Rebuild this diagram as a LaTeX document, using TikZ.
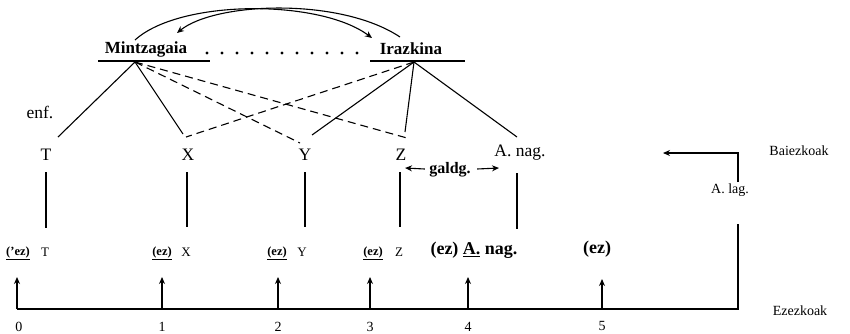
\documentclass[tikz,border=0pt]{standalone}
\usepackage{fontspec}
\setmainfont{Liberation Serif}
\usetikzlibrary{arrows.meta}
\begin{document}
\begin{tikzpicture}[x=1pt,y=-1pt, line width=1.1pt,
 lbl/.style={inner sep=0pt, font=\fontsize{17.5}{20}\selectfont},
 hd/.style={inner sep=0pt, font=\fontsize{17}{19}\selectfont\bfseries},
 sm/.style={inner sep=0pt, font=\fontsize{13}{15}\selectfont},
 side/.style={inner sep=0pt, font=\fontsize{14}{16}\selectfont},
 smb/.style={inner sep=0pt, font=\fontsize{12.5}{14}\selectfont\bfseries},
 bigb/.style={inner sep=0pt, font=\fontsize{18}{20}\selectfont\bfseries},
 gb/.style={inner sep=0pt, font=\fontsize{16}{18}\selectfont\bfseries},
 dsh/.style={dash pattern=on 8pt off 5pt},
 arr/.style={-{Stealth[length=7pt,width=6pt]}},
]
\useasboundingbox (0,0) rectangle (850,333);

% headings
\node[hd] (mz) at (146,49) {Mintzagaia};
\node[hd] (ir) at (411,49) {Irazkina};
\coordinate (mzL) at (98,61); \coordinate (mzR) at (210,61);
\coordinate (irL) at (370,61); \coordinate (irR) at (465,61);
\draw (mzL) -- (mzR);
\draw (irL) -- (irR);
\foreach \i in {0,...,10} \fill (207+15*\i,53) circle (1.6pt);

% curved arrows
\coordinate (c1s) at (135,40); \coordinate (c1e) at (372,38);
\coordinate (c2s) at (400,37); \coordinate (c2e) at (177,33);
\draw[arr] (c1s) .. controls (180,-1) and (320,-1) .. (c1e);
\draw[arr] (c2s) .. controls (340,-3) and (215,2) .. (c2e);

% apexes
\coordinate (mA) at (135,62);
\coordinate (iA) at (414,62);

% upper labels
\node[lbl] (enf) at (40,112) {enf.};
\node[lbl] (T) at (46,155) {T};
\node[lbl] (X) at (188,155) {X};
\node[lbl] (Y) at (305,155) {Y};
\node[lbl] (Z) at (401,155) {Z};
\node[lbl] (AN) at (520,153) {A. nag.};

\coordinate (Tt) at (58,137);
\coordinate (Xt) at (183,134);
\coordinate (Xd) at (186,137);
\coordinate (Yd) at (300,143);
\coordinate (Ys) at (312,135);
\coordinate (Zd) at (407,138);
\coordinate (Zs) at (405,132);
\coordinate (ANt) at (517,137);

\draw (mA) -- (Tt);
\draw (mA) -- (Xt);
\draw[dsh] (mA) -- (Yd);
\draw[dsh] (mA) -- (Zd);
\draw[dsh] (iA) -- (Xd);
\draw (iA) -- (Ys);
\draw (iA) -- (Zs);
\draw (iA) -- (ANt);

% verticals
\coordinate (Tv1) at (46,172); \coordinate (Tv2) at (46,228);
\coordinate (Xv1) at (187,172); \coordinate (Xv2) at (187,227);
\coordinate (Yv1) at (305,172); \coordinate (Yv2) at (305,227);
\coordinate (Zv1) at (400,172); \coordinate (Zv2) at (400,227);
\coordinate (Av1) at (517,173); \coordinate (Av2) at (517,229);
\draw (Tv1) -- (Tv2);
\draw (Xv1) -- (Xv2);
\draw (Yv1) -- (Yv2);
\draw (Zv1) -- (Zv2);
\draw (Av1) -- (Av2);

% galdg.
\node[gb] (gal) at (450,170) {galdg.};
\coordinate (gl) at (405,168); \coordinate (gr) at (499,168);
\draw[arr] (gal.west) ++(-4,-1) -- (gl);
\draw[arr] (gal.east) ++(6,-1) -- (gr);

% bottom labels
\node[smb] (b0) at (18,253) {\underline{('ez)}};
\node[sm] (bT) at (45,252) {T};
\node[smb] (b1) at (162,253) {\underline{(ez)}};
\node[sm] (bX) at (186,252) {X};
\node[smb] (b2) at (277,253) {\underline{(ez)}};
\node[sm] (bY) at (302,252) {Y};
\node[smb] (b3) at (373,253) {\underline{(ez)}};
\node[sm] (bZ) at (399,252) {Z};
\node[bigb] (b4) at (474,250) {(ez) \underline{A.} nag.};
\node[bigb] (b5) at (597,249) {(ez)};

% baseline and up arrows
\coordinate (p0) at (17,309); \coordinate (q0) at (17,277);
\coordinate (p1) at (162,309); \coordinate (q1) at (162,277);
\coordinate (p2) at (278,309); \coordinate (q2) at (278,277);
\coordinate (p3) at (370,309); \coordinate (q3) at (370,277);
\coordinate (p4) at (468,309); \coordinate (q4) at (468,277);
\coordinate (p5) at (602,309); \coordinate (q5) at (602,279);
\foreach \k in {0,...,5} \draw[arr] (p\k) -- (q\k);

\coordinate (corner) at (738,309);
\coordinate (low) at (738,224);
\coordinate (up) at (738,182);
\coordinate (topc) at (738,153);
\coordinate (lend) at (663,153);
\draw[line width=1.3pt] (p0) -- (corner) -- (low);
\draw[arr] (up) -- (topc) -- (lend);
\node[side] (alag) at (730,190) {A. lag.};

\node[side] (bai) at (799,151) {Baiezkoak};
\node[side] (eze) at (800,311) {Ezezkoak};

% numbers
\node[side] (n0) at (19,327) {0};
\node[side] (n1) at (162,327) {1};
\node[side] (n2) at (278,327) {2};
\node[side] (n3) at (370,327) {3};
\node[side] (n4) at (468,327) {4};
\node[side] (n5) at (602,326) {5};
\end{tikzpicture}
\end{document}
